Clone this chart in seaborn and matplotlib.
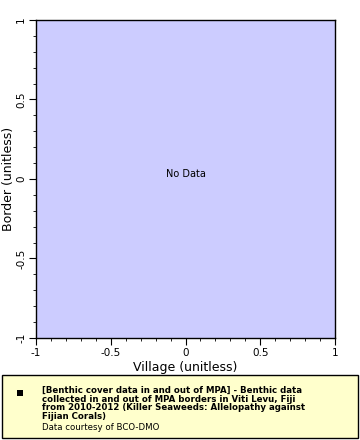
import numpy as np
import pandas as pd
import matplotlib
matplotlib.use("Agg")
import matplotlib.pyplot as plt
from matplotlib.patches import Rectangle
from matplotlib.ticker import MultipleLocator
import seaborn as sns

# no observations in this dataset
village = []
border = []
x_ticks = [-1, -0.5, 0, 0.5, 1]
x_labels = ["-1", "-0.5", "0", "0.5", "1"]
y_ticks = [-1, -0.5, 0, 0.5, 1]
y_labels = ["-1", "-0.5", "0", "0.5", "1"]
legend_title = ("[Benthic cover data in and out of MPA] - Benthic data\n"
                "collected in and out of MPA borders in Viti Levu, Fiji\n"
                "from 2010-2012 (Killer Seaweeds: Allelopathy against\n"
                "Fijian Corals)")
credit = "Data courtesy of BCO-DMO"

sns.set_style("ticks")
plt.rcParams["font.family"] = ["DejaVu Sans"]
plt.rcParams["text.color"] = "black"

data = pd.DataFrame({"village": pd.Series(village, dtype=float),
                     "border": pd.Series(border, dtype=float)})

fig = plt.figure(figsize=(3.6, 4.4), dpi=100)
ax = fig.add_axes([36/360, 1 - 338/440, 299/360, 318/440])
ax.set_facecolor("#CCCCFF")
sns.scatterplot(data=data, x="village", y="border", ax=ax, color="black", legend=False)

ax.set_xlim(-1, 1)
ax.set_ylim(-1, 1)
ax.set_xticks(x_ticks)
ax.set_xticklabels(x_labels, fontsize=7.5)
ax.set_yticks(y_ticks)
ax.set_yticklabels(y_labels, fontsize=7.5, rotation=90, va="center")
ax.xaxis.set_minor_locator(MultipleLocator(0.1))
ax.yaxis.set_minor_locator(MultipleLocator(0.1))
ax.tick_params(which="major", length=5, width=0.8, pad=2, colors="black")
ax.tick_params(which="minor", length=2.5, width=0.6, colors="black")
for s in ax.spines.values():
    s.set_linewidth(1.0)
    s.set_color("black")
ax.set_xlabel("Village (unitless)", fontsize=9, labelpad=2, color="black")
ax.set_ylabel("Border (unitless)", fontsize=9, labelpad=1, color="black")

ax.text(0, 0, "No Data", ha="center", va="bottom", fontsize=7, color="black")

# legend box
fig.patches.append(Rectangle((2/360, 2/440), 356/360, 63/440, transform=fig.transFigure,
                             facecolor="#FFFFCC", edgecolor="black", linewidth=1.0))
fig.patches.append(Rectangle((17/360, 1 - 396/440), 6/360, 6/440, transform=fig.transFigure,
                             facecolor="black", edgecolor="none"))
fig.text(42/360, 1 - 386/440, legend_title, fontsize=6.2, fontweight="bold",
         va="top", ha="left", linespacing=0.95, color="black")
fig.text(42/360, 1 - 427/440, credit, fontsize=6.2, va="center", ha="left", color="black")

fig.savefig("out.png", dpi=100)
